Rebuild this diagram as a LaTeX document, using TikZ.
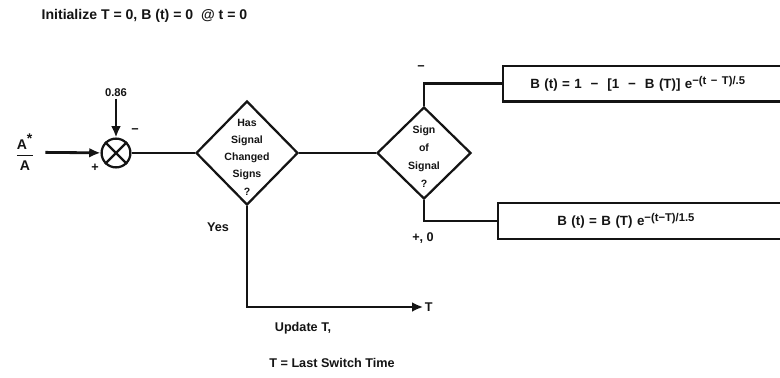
\documentclass[tikz,border=0pt]{standalone}
\usepackage{fontspec}
\setmainfont{Liberation Sans}
\usetikzlibrary{shapes.geometric,arrows.meta}
\definecolor{FCInk}{HTML}{141414}
\newcommand{\supx}[1]{\raisebox{.65ex}{\fontsize{8}{8}\selectfont #1}}
\tikzset{
  flow/.style={FCInk,line width=2pt},
  flowarrow/.style={flow,-{Latex[length=8pt,width=7pt]}},
  boxline/.style={FCInk,line width=1.7pt},
  decision/.style={draw=FCInk,diamond,line width=1.6pt,inner sep=0pt},
  dtext/.style={align=center,text=FCInk,font=\fontsize{7.5}{12.3}\selectfont\bfseries},
  lbl/.style={text=FCInk,font=\fontsize{9}{11}\selectfont\bfseries,inner sep=1pt},
  formbox/.style={anchor=west,align=left,text=FCInk,font=\fontsize{9.5}{11}\selectfont\bfseries}
}

\begin{document}
\begin{tikzpicture}[x=1cm,y=1cm]
\path[use as bounding box] (0,0) rectangle (19.50,9.425);
\node[lbl,anchor=west,font=\fontsize{10}{12}\selectfont\bfseries] (init) at (1.00,9.02) {Initialize T = 0, B (t) = 0 \ @ t = 0};
\node[lbl,font=\fontsize{10}{12}\selectfont\bfseries] (ratio) at (0.625,5.62) {$\displaystyle{\textbf{A}^{\textbf{*}}\above 1.2pt\textbf{A}}$};
\node[lbl,font=\fontsize{8}{10}\selectfont\bfseries] (gain) at (2.90,7.10) {0.86};
\node[draw=FCInk,circle,line width=1.6pt,minimum size=0.72cm,inner sep=0pt] (sum) at (2.90,5.60) {};
\draw[boxline] (sum.north west) -- (sum.south east);
\draw[boxline] (sum.north east) -- (sum.south west);
\node[lbl] (summinus) at (3.375,6.15) {−};
\node[lbl] (sumplus) at (2.375,5.225) {+};
\node[decision,minimum width=2.55cm,minimum height=2.60cm] (chg) at (6.175,5.60) {};
\node[dtext] (chgtext) at ([yshift=-0.10cm]chg) {Has\\Signal\\Changed\\Signs\\?};
\node[decision,minimum width=2.35cm,minimum height=2.30cm] (sgn) at (10.60,5.60) {};
\node[dtext,font=\fontsize{7.5}{12.8}\selectfont\bfseries] (sgntext) at ([yshift=-0.08cm]sgn) {Sign\\of\\Signal\\?};
\node[lbl] (negsign) at (10.525,7.725) {−};
\node[lbl] (possign) at (10.575,3.475) {+, 0};
\node[formbox,text width=5.575cm,inner xsep=0.675cm,minimum height=0.875cm] (neg) at (12.575,7.33) {B (t) = 1 \ − \ [1 \ − \ B (T)] e\supx{−(t − T)/.5}};
\draw[boxline] (neg.north east) -- (neg.north west) -- (neg.south west) -- (neg.south east);
\node[formbox,text width=4.10cm,inner xsep=1.475cm,minimum height=0.90cm] (pos) at (12.45,3.90) {B (t) = B (T) e\supx{−(t−T)/1.5}};
\draw[boxline] (pos.north east) -- (pos.north west) -- (pos.south west) -- (pos.south east);
\node[lbl] (yes) at (5.45,3.75) {Yes};
\node[lbl] (tsym) at (10.72,1.75) {T};
\node[lbl] (update) at (7.575,1.225) {Update T,};
\node[lbl] (lastsw) at (8.30,0.35) {T = Last Switch Time};
\draw[flowarrow,shorten <=0.22cm] (ratio) -- (sum);
\draw[flowarrow] (gain) -- (sum);
\draw[flow] (sum) -- (chg);
\draw[flow] (chg) -- (sgn);
\draw[flow] (sgn.north) |- (neg.west);
\draw[flow] (sgn.south) |- (pos.west);
\draw[flowarrow] (chg.south) |- (tsym.west);
\end{tikzpicture}
\end{document}
